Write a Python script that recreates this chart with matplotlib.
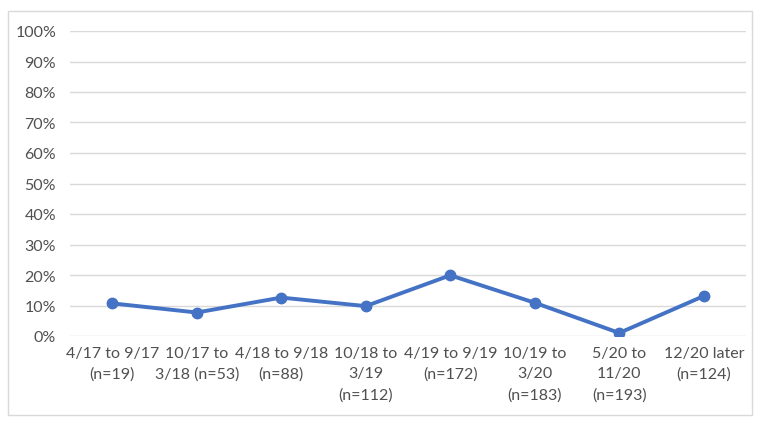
import numpy as np
import matplotlib as mpl
mpl.use('Agg')
import matplotlib.pyplot as plt
from matplotlib.patches import Rectangle
from matplotlib.ticker import PercentFormatter

# data
periods = ['4/17 to 9/17\n(n=19)', '10/17 to\n3/18 (n=53)', '4/18 to 9/18\n(n=88)',
           '10/18 to\n3/19\n(n=112)', '4/19 to 9/19\n(n=172)', '10/19 to\n3/20\n(n=183)',
           '5/20 to\n11/20\n(n=193)', '12/20 later\n(n=124)']
share = [0.107, 0.077, 0.126, 0.098, 0.199, 0.109, 0.010, 0.131]

plt.rcParams['font.family'] = ['Lato', 'DejaVu Sans']

fig = plt.figure(figsize=(7.62, 4.31), dpi=100)
fig.patches.append(Rectangle((8 / 762, 1 - 416 / 431), 744 / 762, 404 / 431,
                             transform=fig.transFigure, fill=False,
                             edgecolor='#D9D9D9', linewidth=1))
ax = fig.add_axes([70 / 762, 1 - 337 / 431, 676 / 762, 305 / 431])

x = np.arange(len(periods))
ax.plot(x, share, color='#4472C4', linewidth=2.8, marker='o', markersize=7.5,
        solid_joinstyle='round', zorder=3)

ax.set_xlim(-0.5, len(periods) - 0.5)
ax.set_ylim(0, 1.0)
ax.set_yticks(np.arange(0, 1.01, 0.1))
ax.yaxis.set_major_formatter(PercentFormatter(1.0, decimals=0))
ax.set_xticks(x)
ax.set_xticklabels(periods, linespacing=1.6)
ax.grid(axis='y', color='#D9D9D9', linewidth=1)
ax.set_axisbelow(True)
for s in ax.spines.values():
    s.set_visible(False)
ax.tick_params(axis='both', length=0, labelsize=11.5, colors='#505050')
ax.tick_params(axis='y', pad=10)
ax.tick_params(axis='x', pad=7)

plt.savefig('out.png', dpi=100)
plt.close()
